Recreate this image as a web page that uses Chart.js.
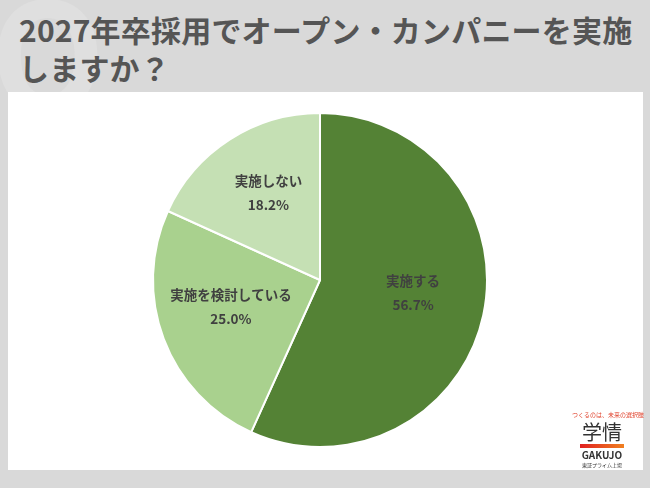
<!DOCTYPE html>
<html>
<head>
<meta charset="utf-8">
<script src="https://cdn.jsdelivr.net/npm/chart.js@4"></script>
<style>
  body { margin: 0; width: 650px; height: 488px; background: #d9d9d9; position: relative; overflow: hidden;
         font-family: "Noto Sans CJK JP", "Noto Sans", sans-serif; }
  #q { position: absolute; left: -10px; top: -28px; font-size: 150px; font-weight: bold; color: #dfdfdf; line-height: 1; }
  #title { position: absolute; left: 19px; top: 10px; font-size: 30px; font-weight: bold; color: #555; line-height: 38px; letter-spacing: 0.2px; }
  #panel { position: absolute; left: 8px; top: 92px; width: 635px; height: 378px; background: #fff; }
  #logo { position: absolute; left: 572px; top: 410px; width: 60px; text-align: center; color: #333; }
</style>
</head>
<body>
<div id="q">Q</div>
<div id="title">2027年卒採用でオープン・カンパニーを実施<br>しますか？</div>
<div id="panel"><canvas id="pie" width="635" height="378"></canvas></div>
<div id="logo">
  <div style="font-size:6px;color:#e0402a;white-space:nowrap">つくるのは、未来の選択肢</div>
  <div style="font-size:20px;line-height:22px;margin-top:2px">学情</div>
  <div style="height:4px;margin:1px 8px;background:linear-gradient(90deg,#e02020,#f08020)"></div>
  <div style="font-size:10px;font-weight:bold;line-height:12px">GAKUJO</div>
  <div style="font-size:5px">東証プライム上場</div>
</div>
<script>
const categories = ['実施する', '実施を検討している', '実施しない'];
const values = [56.7, 25.0, 18.2];
const colors = ['#548235', '#a9d18e', '#c5e0b4'];

const labelPlugin = {
  id: 'sliceLabels',
  afterDatasetsDraw(chart) {
    const ctx = chart.ctx;
    const meta = chart.getDatasetMeta(0);
    ctx.save();
    ctx.fillStyle = '#404040';
    ctx.textAlign = 'center';
    ctx.textBaseline = 'middle';
    ctx.font = 'bold 13.5px "Noto Sans CJK JP", sans-serif';
    meta.data.forEach((arc, i) => {
      const p = arc.getProps(['x', 'y', 'startAngle', 'endAngle', 'outerRadius']);
      const a = (p.startAngle + p.endAngle) / 2;
      const r = p.outerRadius * 0.57;
      const x = p.x + Math.cos(a) * r;
      const y = p.y + Math.sin(a) * r;
      ctx.fillText(categories[i], x, y - 19);
      ctx.fillText(values[i].toFixed(1) + '%', x, y + 5);
    });
    ctx.restore();
  }
};

new Chart(document.getElementById('pie'), {
  type: 'pie',
  data: {
    labels: categories,
    datasets: [{ data: values, backgroundColor: colors, borderColor: '#ffffff', borderWidth: 2 }]
  },
  options: {
    responsive: false,
    animation: false,
    layout: { padding: { left: 144, right: 155, top: 20, bottom: 22 } },
    plugins: { legend: { display: false }, tooltip: { enabled: false } }
  },
  plugins: [labelPlugin]
});
</script>
</body>
</html>
